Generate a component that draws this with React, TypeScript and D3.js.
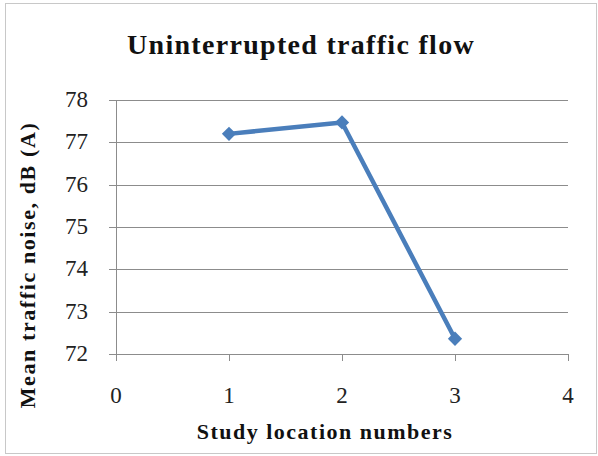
import * as d3 from 'd3';
import { useEffect, useRef } from 'react';

const locations = [1, 2, 3];
const noise = [77.2, 77.47, 72.36];
const xTicks = [0, 1, 2, 3, 4];
const yTicks = [72, 73, 74, 75, 76, 77, 78];

const W = 598;
const H = 456;

const App = () => {
  const ref = useRef<SVGSVGElement | null>(null);

  useEffect(() => {
    if (!ref.current) return;
    const svg = d3.select(ref.current);
    svg.selectAll('*').remove();

    const x = d3.scaleLinear().domain([0, 4]).range([116, 568]);
    const y = d3.scaleLinear().domain([72, 78]).range([354, 100]);
    const grey = '#8c8c8c';
    const serif = '"Liberation Serif", "Times New Roman", serif';

    svg.append('rect')
      .attr('x', 5.5).attr('y', 3.5)
      .attr('width', W - 7).attr('height', H - 6)
      .attr('fill', 'white').attr('stroke', '#c8c8c8');

    // gridlines + y labels
    svg.append('g').selectAll('line')
      .data(yTicks)
      .enter().append('line')
      .attr('x1', 109).attr('x2', x(4))
      .attr('y1', d => Math.round(y(d)) + 0.5).attr('y2', d => Math.round(y(d)) + 0.5)
      .attr('stroke', grey);
    svg.append('g').selectAll('text')
      .data(yTicks)
      .enter().append('text')
      .attr('x', 88).attr('y', d => y(d) - 1)
      .attr('dy', '0.35em')
      .attr('text-anchor', 'end')
      .style('font-family', serif).style('font-size', '23px').attr('fill', '#222')
      .text(d => d);

    // axes
    svg.append('line')
      .attr('x1', 116.5).attr('x2', 116.5).attr('y1', y(78)).attr('y2', 360)
      .attr('stroke', grey);
    svg.append('g').selectAll('line')
      .data(xTicks)
      .enter().append('line')
      .attr('x1', d => Math.round(x(d)) + 0.5).attr('x2', d => Math.round(x(d)) + 0.5)
      .attr('y1', 354).attr('y2', 361)
      .attr('stroke', grey);
    svg.append('g').selectAll('text')
      .data(xTicks)
      .enter().append('text')
      .attr('x', d => x(d)).attr('y', 395)
      .attr('dy', '0.35em')
      .attr('text-anchor', 'middle')
      .style('font-family', serif).style('font-size', '23px').attr('fill', '#222')
      .text(d => d);

    // series
    const pts = locations.map((l, i) => [x(l), y(noise[i])] as [number, number]);
    svg.append('path')
      .attr('d', d3.line()(pts))
      .attr('fill', 'none').attr('stroke', '#4a7ebb').attr('stroke-width', 4.5)
      .attr('stroke-linejoin', 'round');
    svg.append('g').selectAll('path')
      .data(pts)
      .enter().append('path')
      .attr('transform', d => `translate(${d[0]},${d[1]})`)
      .attr('d', d3.symbol(d3.symbolDiamond2, 130)())
      .attr('fill', '#4a7ebb');

    // titles
    svg.append('text')
      .attr('x', 301).attr('y', 44).attr('dy', '0.35em')
      .attr('text-anchor', 'middle')
      .style('font-family', serif).style('font-size', '28px').style('font-weight', 'bold')
      .style('letter-spacing', '1.3px')
      .attr('fill', '#111')
      .text('Uninterrupted traffic flow');
    svg.append('text')
      .attr('x', 325).attr('y', 431).attr('dy', '0.35em')
      .attr('text-anchor', 'middle')
      .style('font-family', serif).style('font-size', '22px').style('font-weight', 'bold')
      .style('letter-spacing', '1.5px')
      .attr('fill', '#111')
      .text('Study location numbers');
    svg.append('text')
      .attr('transform', 'translate(27,265) rotate(-90)')
      .attr('dy', '0.35em')
      .attr('text-anchor', 'middle')
      .style('font-family', serif).style('font-size', '22px').style('font-weight', 'bold')
      .style('letter-spacing', '1.6px')
      .attr('fill', '#111')
      .text('Mean traffic noise, dB (A)');
  }, []);

  return (
    <div style={{ position: 'fixed', left: 0, top: 0 }}>
      <svg ref={ref} width={W} height={H} style={{ display: 'block' }} />
    </div>
  );
};

export default App;
